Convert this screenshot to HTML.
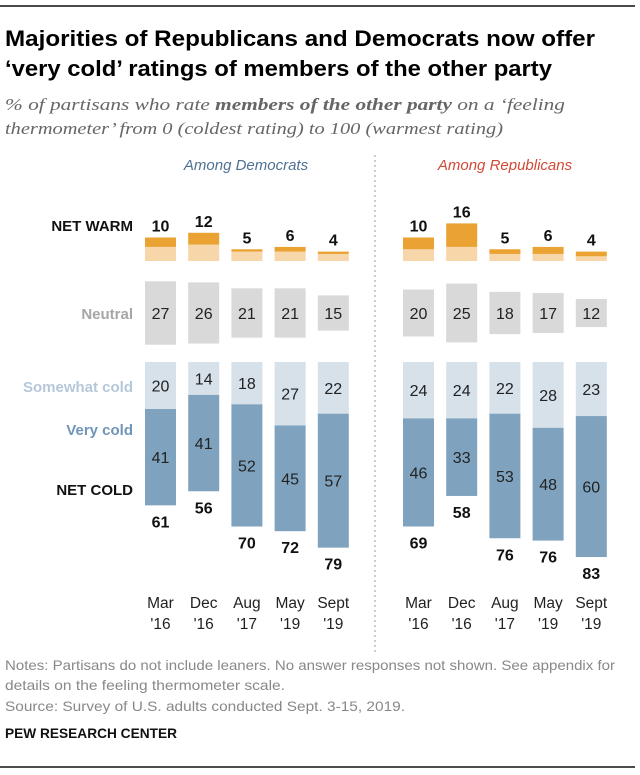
<!DOCTYPE html>
<html><head><meta charset="utf-8"><style>
body{margin:0;background:#fff}
svg{display:block;font-family:"Liberation Sans",sans-serif}
</style></head><body>
<svg id="chart" width="640" height="775" viewBox="0 0 640 775">
<line x1="0" y1="6" x2="635" y2="6" stroke="#111" stroke-width="1.5"/>
<text x="5" y="46" font-size="22" font-weight="bold" textLength="590" lengthAdjust="spacingAndGlyphs" fill="#000">Majorities of Republicans and Democrats now offer</text>
<text x="5" y="76" font-size="22" font-weight="bold" textLength="547" lengthAdjust="spacingAndGlyphs" fill="#000">‘very cold’ ratings of members of the other party</text>
<text x="5" y="110" font-family="Liberation Serif,serif" font-style="italic" font-size="16.5" fill="#666" textLength="560" lengthAdjust="spacingAndGlyphs">% of partisans who rate <tspan font-weight="bold">members of the other party</tspan> on a ‘feeling</text>
<text x="5" y="134" font-family="Liberation Serif,serif" font-style="italic" font-size="16.5" fill="#666" textLength="498" lengthAdjust="spacingAndGlyphs">thermometer’ from 0 (coldest rating) to 100 (warmest rating)</text>
<text x="246" y="170" text-anchor="middle" font-style="italic" font-size="15" fill="#4e7193">Among Democrats</text>
<text x="505" y="170" text-anchor="middle" font-style="italic" font-size="15" fill="#d04a35">Among Republicans</text>
<line x1="375" y1="155" x2="375" y2="655" stroke="#999" stroke-dasharray="2,3"/>
<g font-size="15" font-weight="bold" text-anchor="end">
<text x="133" y="231" fill="#111">NET WARM</text>
<text x="133" y="319" fill="#a6a6a6">Neutral</text>
<text x="133" y="392" fill="#b5c8d9">Somewhat cold</text>
<text x="133" y="435" fill="#6f96b8">Very cold</text>
<text x="133" y="495" fill="#111">NET COLD</text>
</g>
<g id="marks"></g>
<g>
<text x="5" y="670" font-size="14" fill="#888" textLength="610" lengthAdjust="spacingAndGlyphs">Notes: Partisans do not include leaners. No answer responses not shown. See appendix for</text>
<text x="5" y="690" font-size="14" fill="#888" textLength="280" lengthAdjust="spacingAndGlyphs">details on the feeling thermometer scale.</text>
<text x="5" y="711" font-size="14" fill="#888" textLength="400" lengthAdjust="spacingAndGlyphs">Source: Survey of U.S. adults conducted Sept. 3-15, 2019.</text>
</g>
<text x="5" y="738" font-size="14" font-weight="bold" fill="#111" textLength="172" lengthAdjust="spacingAndGlyphs">PEW RESEARCH CENTER</text>
<line x1="0" y1="767" x2="635" y2="767" stroke="#111" stroke-width="1.5"/>
</svg>
<script>
const months = ["Mar","Dec","Aug","May","Sept"];
const years = ["'16","'16","'17","'19","'19"];
const demVeryWarm = [4,5,1,2,1];
const demSomewhatWarm = [6,7,4,4,3];
const demNetWarm = [10,12,5,6,4];
const demNeutral = [27,26,21,21,15];
const demSomewhatCold = [20,14,18,27,22];
const demVeryCold = [41,41,52,45,57];
const demNetCold = [61,56,70,72,79];
const repVeryWarm = [5,10,2,3,2];
const repSomewhatWarm = [5,6,3,3,2];
const repNetWarm = [10,16,5,6,4];
const repNeutral = [20,25,18,17,12];
const repSomewhatCold = [24,24,22,28,23];
const repVeryCold = [46,33,53,48,60];
const repNetCold = [69,58,76,76,83];

const NS = "http://www.w3.org/2000/svg";
const g = document.getElementById('marks');
const K = 2.35;
const h = v => v * K;
const warmBase = 261, neutralMid = 313, coldTop = 362;
const bw = 31;
function el(tag, attrs, txt){
  const e = document.createElementNS(NS, tag);
  for (const k in attrs) e.setAttribute(k, attrs[k]);
  if (txt !== undefined) e.textContent = txt;
  g.appendChild(e);
  return e;
}
function panel(x0, vw, sw, nw, neu, sc, vc, nc, prefix){
  for (let i = 0; i < months.length; i++){
    const x = x0 + i * 43.2, cx = x + bw/2;
    let r = el('rect',{x:x,y:warmBase-h(sw[i]),width:bw,height:h(sw[i]),fill:'#f7d6a9'});
    
    
    r = el('rect',{x:x,y:warmBase-h(sw[i])-h(vw[i]),width:bw,height:h(vw[i]),fill:'#eaa233'});
    
    
    let t = el('text',{x:cx,y:warmBase-h(nw[i])-6,'text-anchor':'middle','font-size':16,'font-weight':'bold',fill:'#111'}, nw[i]);
    
    
    r = el('rect',{x:x,y:neutralMid-h(neu[i])/2,width:bw,height:h(neu[i]),fill:'#d9d9d9'});
    
    
    t = el('text',{x:cx,y:neutralMid+6,'text-anchor':'middle','font-size':16,fill:'#222'}, neu[i]);
    
    
    r = el('rect',{x:x,y:coldTop,width:bw,height:h(sc[i]),fill:'#d6e1ea'});
    
    
    t = el('text',{x:cx,y:coldTop+h(sc[i])/2+6,'text-anchor':'middle','font-size':16,fill:'#222'}, sc[i]);
    
    
    r = el('rect',{x:x,y:coldTop+h(sc[i]),width:bw,height:h(vc[i]),fill:'#7fa3be'});
    
    
    t = el('text',{x:cx,y:coldTop+h(sc[i])+h(vc[i])/2+6,'text-anchor':'middle','font-size':16,fill:'#222'}, vc[i]);
    
    
    t = el('text',{x:cx,y:coldTop+h(sc[i])+h(vc[i])+22,'text-anchor':'middle','font-size':16,'font-weight':'bold',fill:'#111'}, nc[i]);
    
    
    t = el('text',{x:cx,y:608,'text-anchor':'middle','font-size':15.5,fill:'#222'}, months[i]);
    
    
    t = el('text',{x:cx,y:629,'text-anchor':'middle','font-size':15.5,fill:'#222'}, years[i]);
    
    
  }
}
panel(145, demVeryWarm, demSomewhatWarm, demNetWarm, demNeutral, demSomewhatCold, demVeryCold, demNetCold, 'dem');
panel(403, repVeryWarm, repSomewhatWarm, repNetWarm, repNeutral, repSomewhatCold, repVeryCold, repNetCold, 'rep');
</script>
</body></html>
